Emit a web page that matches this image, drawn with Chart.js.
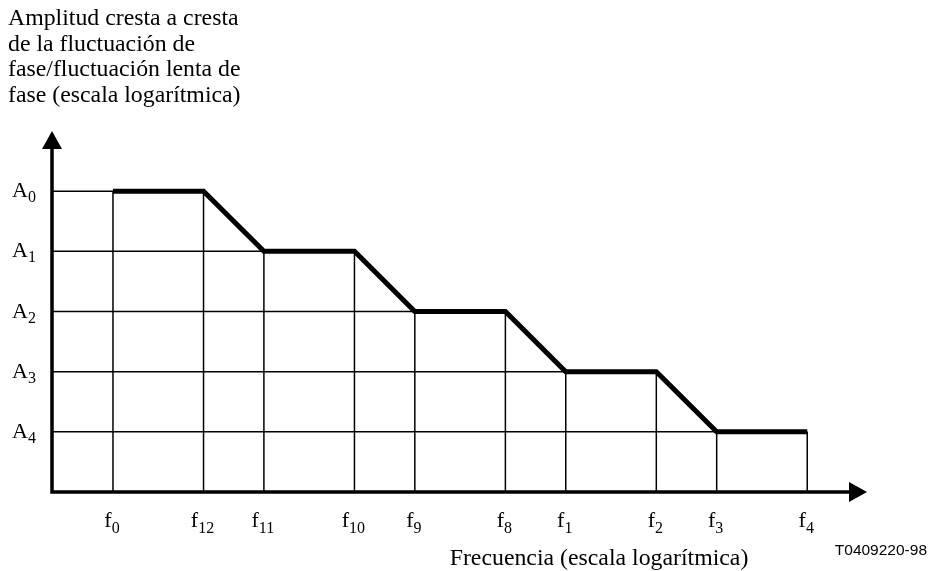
<!DOCTYPE html>
<html>
<head>
<meta charset="utf-8">
<script src="https://cdn.jsdelivr.net/npm/chart.js@4.4.0/dist/chart.umd.min.js"></script>
<style>
  html, body { margin: 0; padding: 0; background: #fff; }
  #maskChart { display: block; }
</style>
</head>
<body>
<canvas id="maskChart" width="928" height="571"></canvas>
<script>
// frecuencias de esquina (posición en escala log, unidades arbitrarias)
const freqNames = ['f0', 'f12', 'f11', 'f10', 'f9', 'f8', 'f1', 'f2', 'f3', 'f4'];
const freqPos = [0, 1.5, 2.5, 4, 5, 6.5, 7.5, 9, 10, 11.5];
// niveles de amplitud
const ampNames = ['A0', 'A1', 'A2', 'A3', 'A4'];
const ampLevels = [5, 4, 3, 2, 1];
// amplitud de la plantilla en cada frecuencia
const maskLevel = [5, 5, 4, 4, 3, 3, 2, 2, 1, 1];

const yTitle = ['Amplitud cresta a cresta', 'de la fluctuación de', 'fase/fluctuación lenta de', 'fase (escala logarítmica)'];
const xTitle = 'Frecuencia (escala logarítmica)';
const figCode = 'T0409220-98';

const X_MIN = -1.01, X_MAX = 12.49, Y_MIN = 0, Y_MAX = 6;

let datasets = [];
// plantilla (línea gruesa)
datasets.push({
    data: freqPos.map((x, i) => ({ x: x, y: maskLevel[i] })),
    borderColor: '#000',
    borderWidth: 5,
    borderJoinStyle: 'miter',
    borderCapStyle: 'butt',
    pointRadius: 0,
    clip: false
});
// líneas horizontales: del eje hasta el final de cada meseta
ampLevels.forEach(level => {
    let xEnd = Math.max(...freqPos.filter((x, i) => maskLevel[i] === level));
    datasets.push({
        data: [{ x: X_MIN, y: level }, { x: xEnd, y: level }],
        borderColor: '#000', borderWidth: 1.5, pointRadius: 0, clip: false
    });
});
// líneas verticales: del eje hasta la plantilla
freqPos.forEach((x, i) => {
    datasets.push({
        data: [{ x: x, y: Y_MIN }, { x: x, y: maskLevel[i] }],
        borderColor: '#000', borderWidth: 1.5, pointRadius: 0, clip: false
    });
});

function subLabel(ctx, text, x, y, align, big, small, drop) {
    let base = text.charAt(0), sub = text.slice(1);
    ctx.font = big + 'px "Liberation Serif"';
    let w1 = ctx.measureText(base).width;
    ctx.font = small + 'px "Liberation Serif"';
    let w2 = ctx.measureText(sub).width;
    let start = align === 'center' ? x - (w1 + w2) / 2 : x;
    ctx.textAlign = 'left';
    ctx.textBaseline = 'alphabetic';
    ctx.font = big + 'px "Liberation Serif"';
    ctx.fillText(base, start, y);
    ctx.font = small + 'px "Liberation Serif"';
    ctx.fillText(sub, start + w1, y + drop);
}

const decorPlugin = {
    id: 'decor',
    beforeDraw(chart) {
        const ctx = chart.ctx;
        ctx.save();
        ctx.fillStyle = '#fff';
        ctx.fillRect(0, 0, chart.width, chart.height);
        ctx.restore();
    },
    afterDatasetsDraw(chart) {
        const ctx = chart.ctx;
        const xs = chart.scales.x, ys = chart.scales.y;
        const x0 = xs.getPixelForValue(X_MIN), y0 = ys.getPixelForValue(Y_MIN);
        const xTip = xs.getPixelForValue(X_MAX), yTip = ys.getPixelForValue(Y_MAX);
        ctx.save();
        ctx.fillStyle = '#000';
        ctx.strokeStyle = '#000';
        ctx.lineWidth = 3.5;
        // ejes
        ctx.beginPath();
        ctx.moveTo(x0, y0 + 1.75);
        ctx.lineTo(x0, yTip + 16);
        ctx.moveTo(x0 - 1.75, y0);
        ctx.lineTo(xTip - 16, y0);
        ctx.stroke();
        // flechas
        ctx.beginPath();
        ctx.moveTo(x0, yTip);
        ctx.lineTo(x0 - 10, yTip + 18);
        ctx.lineTo(x0 + 10, yTip + 18);
        ctx.closePath();
        ctx.fill();
        ctx.beginPath();
        ctx.moveTo(xTip, y0);
        ctx.lineTo(xTip - 18, y0 - 10);
        ctx.lineTo(xTip - 18, y0 + 10);
        ctx.closePath();
        ctx.fill();

        // etiquetas de frecuencia
        freqNames.forEach((name, i) => {
            subLabel(ctx, name, xs.getPixelForValue(freqPos[i]) - 1, y0 + 35, 'center', 22, 16, 6);
        });
        // etiquetas de amplitud
        ampNames.forEach((name, i) => {
            subLabel(ctx, name, 12, ys.getPixelForValue(ampLevels[i]) + 6, 'left', 22, 16, 5);
        });

        // títulos
        ctx.textAlign = 'left';
        ctx.textBaseline = 'alphabetic';
        ctx.font = '23.8px "Liberation Serif"';
        yTitle.forEach((line, i) => ctx.fillText(line, 8, 25 + i * 25.5));
        ctx.textAlign = 'center';
        ctx.fillText(xTitle, 599, 565);
        ctx.textAlign = 'right';
        ctx.font = '15.5px "Liberation Sans"';
        ctx.fillText(figCode, 927, 555);
        ctx.restore();
    }
};

new Chart(document.getElementById('maskChart'), {
    type: 'scatter',
    data: { datasets: datasets },
    options: {
        responsive: false,
        animation: false,
        devicePixelRatio: 1,
        showLine: true,
        layout: { padding: { left: 52, right: 928 - 867, top: 131, bottom: 571 - 492 } },
        plugins: { legend: { display: false }, tooltip: { enabled: false }, title: { display: false } },
        scales: {
            x: { type: 'linear', min: X_MIN, max: X_MAX, display: false },
            y: { type: 'linear', min: Y_MIN, max: Y_MAX, display: false }
        }
    },
    plugins: [decorPlugin]
});
</script>
</body>
</html>
